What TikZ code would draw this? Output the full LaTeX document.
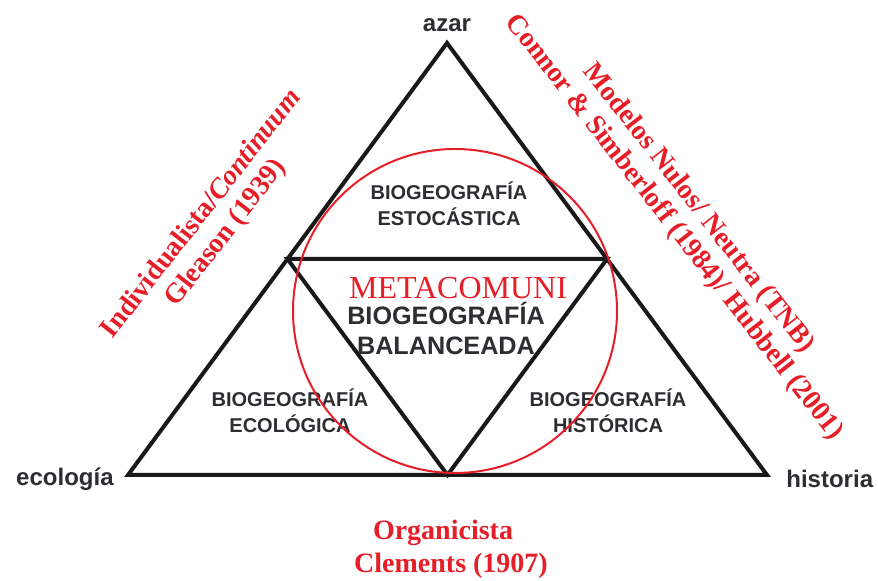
\documentclass[tikz,border=0pt]{standalone}
\usepackage{fontspec}
\setmainfont{Liberation Serif}
\setsansfont{Liberation Sans}
\usepackage{tikz}
\usetikzlibrary{positioning, calc}
\definecolor{refred}{RGB}{230,30,40}
\definecolor{inkgray}{RGB}{45,45,50}
\tikzset{edgeline/.style={line width=2pt, draw=black!90, line join=miter}}
\tikzset{region/.style={font=\sffamily\bfseries\fontsize{10}{13}\selectfont, text=inkgray, align=center}}
\tikzset{corner/.style={font=\sffamily\bfseries\fontsize{12}{15}\selectfont, text=inkgray, inner sep=0pt}}
\tikzset{author/.style={font=\rmfamily\bfseries\fontsize{14}{15.5}\selectfont, text=refred, align=center}}

\begin{document}
\begin{tikzpicture}[x=0.5pt, y=-0.5pt]
      \useasboundingbox (0,0) rectangle (878,581);

      % corners of the big triangle
      \coordinate (top) at (447,43);
      \coordinate (bl) at (128,475);
      \coordinate (br) at (767,475);
      \coordinate (ml) at ($(top)!.5!(bl)$);
      \coordinate (mr) at ($(top)!.5!(br)$);
      \coordinate (mb) at ($(bl)!.5!(br)$);

      \draw[edgeline] (top) -- (bl) -- (br) -- cycle;
      \draw[edgeline] (ml) -- (mr) -- (mb) -- cycle;

      \node[corner] (azar) at (447,25) {azar};
      \node[corner, anchor=east] (ecologia) at (114,479) {ecología};
      \node[corner, anchor=west] (historia) at (786,479) {historia};

      \node[region] (esto) at (449,204) {BIOGEOGRAFÍA\\ESTOCÁSTICA};
      \node[region, font=\sffamily\bfseries\fontsize{12.6}{15}\selectfont] (bal) at (446,328) {BIOGEOGRAFÍA\\BALANCEADA};
      \node[region] (eco) at (290,411) {BIOGEOGRAFÍA\\ECOLÓGICA};
      \node[region] (hist) at (608,411) {BIOGEOGRAFÍA\\HISTÓRICA};

      \node[draw=refred, line width=1pt, circle, minimum size=162pt, inner sep=0pt] (meta) at (455,311) {};
      \node[text=refred, font=\rmfamily\fontsize{16}{18}\selectfont] (metalabel) at (458,288) {METACOMUNI};

      \node[author, rotate=52] (gleason) at (214,224) {Individualista/\textit{Continuum}\\Gleason (1939)};
      \node[author, rotate=-52] (tnb) at (686,218) {Modelos Nulos/ Neutra (TNB)\\Connor \& Simberloff (1984)/ Hubbell (2001)};
      \node[author] (organ) at (443,533) {Organicista};
      \node[author] (clements) at (451,566) {Clements (1907)};
    \end{tikzpicture}
\end{document}
